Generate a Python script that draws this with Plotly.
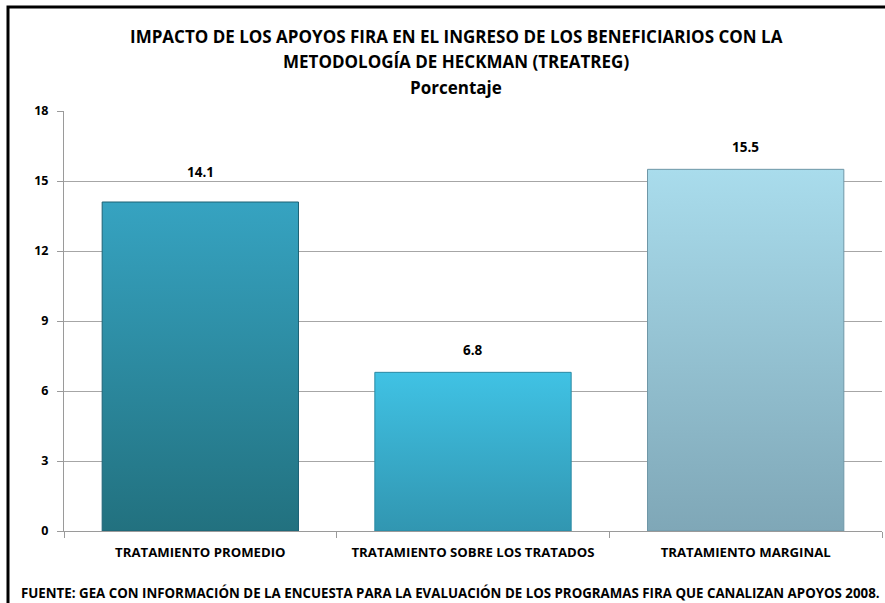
import plotly.graph_objects as go

categories = ["TRATAMIENTO PROMEDIO", "TRATAMIENTO SOBRE LOS TRATADOS", "TRATAMIENTO MARGINAL"]
values = [14.1, 6.8, 15.5]
value_labels = ["14.1", "6.8", "15.5"]
y_ticks = [0, 3, 6, 9, 12, 15, 18]

top_colors = ["#36a3c1", "#40c2e4", "#a9dcec"]
bottom_colors = ["#22717f", "#3196b1", "#7fa7b7"]
edge_colors = ["#1d6275", "#2a89a3", "#6f97a7"]
label_shift = [30, 22, 22]

FONT = "Open Sans"
BAR_W = 0.72

fig = go.Figure()
for i, (cat, v) in enumerate(zip(categories, values)):
    x0, x1 = i - BAR_W / 2, i + BAR_W / 2
    fig.add_trace(go.Scatter(
        x=[x0, x0, x1, x1, x0], y=[0, v, v, 0, 0],
        mode="lines", fill="toself",
        line=dict(color=edge_colors[i], width=1),
        fillgradient=dict(type="vertical",
                          colorscale=[[0, bottom_colors[i]], [1, top_colors[i]]]),
        name=cat, hoverinfo="skip", showlegend=False,
    ))
    fig.add_annotation(x=i, y=v, text="<b>" + value_labels[i] + "</b>",
                       showarrow=False, yanchor="middle", yshift=label_shift[i],
                       font=dict(family=FONT, size=13.5, color="#000"))

fig.update_layout(
    width=885, height=603,
    margin=dict(l=64, r=3, t=111, b=72),
    paper_bgcolor="white", plot_bgcolor="white",
    showlegend=False,
    font=dict(family=FONT, color="#000"),
    xaxis=dict(
        range=[-0.5, 2.5], tickvals=[0, 1, 2],
        ticktext=["<b>" + c + "</b>" for c in categories],
        tickfont=dict(family=FONT, size=13.2, color="#000"),
        showgrid=False, zeroline=False,
        showline=True, linecolor="#9a9a9a", linewidth=1,
        ticks="", ticklabelstandoff=9,
        minor=dict(tickvals=[-0.5, 0.5, 1.5, 2.5], ticks="outside",
                   ticklen=6, tickcolor="#9a9a9a", showgrid=False),
    ),
    yaxis=dict(
        range=[0, 18], tickvals=y_ticks,
        ticktext=["<b>%d</b>" % t for t in y_ticks],
        tickfont=dict(family=FONT, size=12.5, color="#000"),
        showgrid=True, gridcolor="#a6a6a6", gridwidth=1,
        zeroline=False, showline=True, linecolor="#9a9a9a", linewidth=1,
        ticks="outside", ticklen=6, tickcolor="#9a9a9a",
        ticklabelstandoff=6,
    ),
)

title_lines = ["IMPACTO DE LOS APOYOS FIRA EN EL INGRESO DE LOS BENEFICIARIOS CON LA",
               "METODOLOGÍA DE HECKMAN (TREATREG)", "Porcentaje"]
title_y_px = [37, 62, 88]
for line, ypx in zip(title_lines, title_y_px):
    fig.add_annotation(
        xref="paper", yref="paper", x=(456 - 64) / 818, y=(531 - ypx) / 420,
        text="<b>" + line + "</b>", showarrow=False,
        xanchor="center", yanchor="middle",
        font=dict(family=FONT, size=17, color="#000"),
    )

fig.add_annotation(
    xref="paper", yref="paper", x=(450 - 64) / 818, y=(531 - 593) / 420,
    text="<b>FUENTE: GEA CON INFORMACIÓN DE LA ENCUESTA PARA LA EVALUACIÓN DE LOS PROGRAMAS FIRA QUE CANALIZAN APOYOS 2008.</b>",
    showarrow=False, xanchor="center", yanchor="middle",
    font=dict(family=FONT, size=13.3, color="#000"),
)

fig.add_shape(type="rect", xref="paper", yref="paper",
              x0=(8 - 64) / 818, x1=(900 - 64) / 818,
              y0=(531 - 620) / 420, y1=(531 - 7) / 420,
              line=dict(color="#000", width=3), layer="above")

fig.write_html("out.html", config={"displayModeBar": False},
               post_script="document.body.style.margin='0';document.body.style.overflow='hidden';")
